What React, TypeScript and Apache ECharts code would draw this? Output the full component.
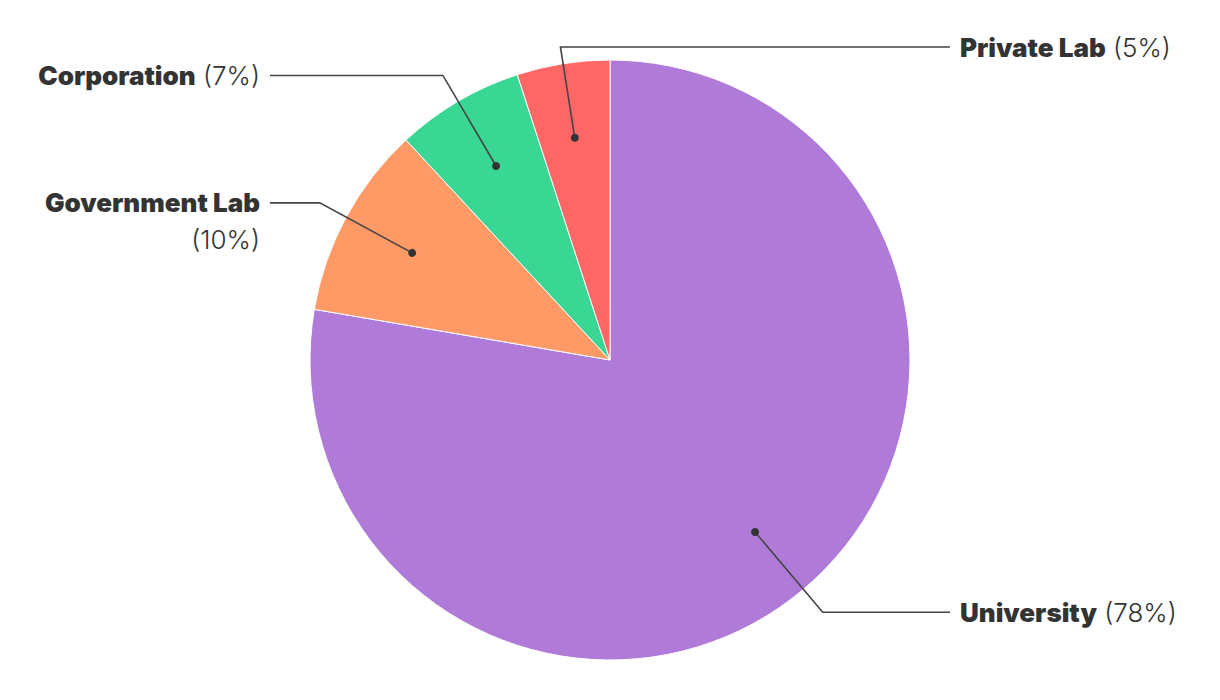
import React, { useEffect, useRef } from "react";
import * as echarts from "echarts";

const categories = ["University", "Government Lab", "Corporation", "Private Lab"];
const values = [77.7, 10.4, 6.9, 5.0];
const colors = ["#B07AD9", "#FF9966", "#3AD694", "#FF6666"];

const FONT = "Inter, 'Noto Sans', sans-serif";
const LINE_H = 37;
const R = 300;
const DOT_R = 225;
const ELBOW_R = 330;
const LABEL_TOP = 47;
const LINE_END_LEFT = 270;
const LINE_END_RIGHT = 950;
const TEXT_GAP = 10;
const WRAP_LEN = 12;

export default function App() {
  const ref = useRef<HTMLDivElement>(null);
  useEffect(() => {
    document.body.style.margin = "0";
    if (!ref.current) return;
    const chart = echarts.init(ref.current, undefined, { renderer: "svg" });
    const total = values.reduce((a, b) => a + b, 0);
    let cum = 0;
    const mids: number[] = values.map((v) => {
      const m = cum + v / 2;
      cum += v;
      return m;
    });

    const pieData = categories.map((name, i) => ({
      name,
      value: values[i],
      itemStyle: { color: colors[i] },
    }));

    const bold = {
      fontFamily: FONT,
      fontSize: 26,
      fontWeight: 900,
      fill: "#333333",
      color: "#333333",
      lineHeight: LINE_H,
    };
    const light = {
      fontFamily: FONT,
      fontSize: 26,
      fontWeight: 300,
      fill: "#333333",
      color: "#333333",
      lineHeight: LINE_H,
    };

    const renderItem = (params: any, api: any) => {
      const i = api.value(2);
      const ang = api.value(1);
      const c = api.coord([0, 0]);
      const dot = api.coord([DOT_R, ang]);
      let elbow = api.coord([ELBOW_R, ang]);
      const dirx = elbow[0] - dot[0];
      const diry = elbow[1] - dot[1];
      if (elbow[1] < LABEL_TOP) {
        const s = (LABEL_TOP - dot[1]) / diry;
        elbow = [dot[0] + dirx * s, LABEL_TOP];
      }
      const len = Math.hypot(elbow[0] - c[0], elbow[1] - c[1]);
      const right = elbow[0] - c[0] > -0.25 * len;
      const endX = right ? LINE_END_RIGHT : LINE_END_LEFT;
      const name = categories[i];
      const pct = Math.round((values[i] / total) * 100);
      const text =
        name.length > WRAP_LEN
          ? `{b|${name}}\n{p|(${pct}%)}`
          : `{b|${name}} {p|(${pct}%)}`;
      return {
        type: "group",
        children: [
          {
            type: "polyline",
            shape: { points: [dot, elbow, [endX, elbow[1]]] },
            style: { stroke: "#444444", lineWidth: 1.6, fill: null },
          },
          {
            type: "circle",
            shape: { cx: dot[0], cy: dot[1], r: 4 },
            style: { fill: "#333333" },
          },
          {
            type: "text",
            x: right ? endX + TEXT_GAP : endX - TEXT_GAP,
            y: elbow[1] - LINE_H / 2,
            style: {
              text,
              align: right ? "left" : "right",
              verticalAlign: "top",
              fontFamily: FONT,
              fontSize: 26,
              lineHeight: LINE_H,
              fill: "#333333",
              rich: { b: bold, p: light },
            },
          },
        ],
      };
    };

    chart.setOption({
      animation: false,
      polar: { center: [610, 360], radius: R },
      angleAxis: {
        type: "value",
        min: 0,
        max: total,
        startAngle: 90,
        clockwise: true,
        show: false,
      },
      radiusAxis: { type: "value", min: 0, max: R, show: false },
      series: [
        {
          type: "pie",
          center: [610, 360],
          radius: [0, R],
          startAngle: 90,
          clockwise: true,
          silent: true,
          label: { show: false },
          labelLine: { show: false },
          itemStyle: { borderColor: "#ffffff", borderWidth: 1 },
          data: pieData,
        },
        {
          type: "custom",
          coordinateSystem: "polar",
          silent: true,
          z: 10,
          dimensions: ["radius", "angle", "idx"],
          encode: { radius: 0, angle: 1 },
          renderItem,
          data: mids.map((m, i) => [DOT_R, m, i]),
        },
      ],
    });
    return () => chart.dispose();
  }, []);
  return <div ref={ref} style={{ width: 1220, height: 700 }} />;
}
